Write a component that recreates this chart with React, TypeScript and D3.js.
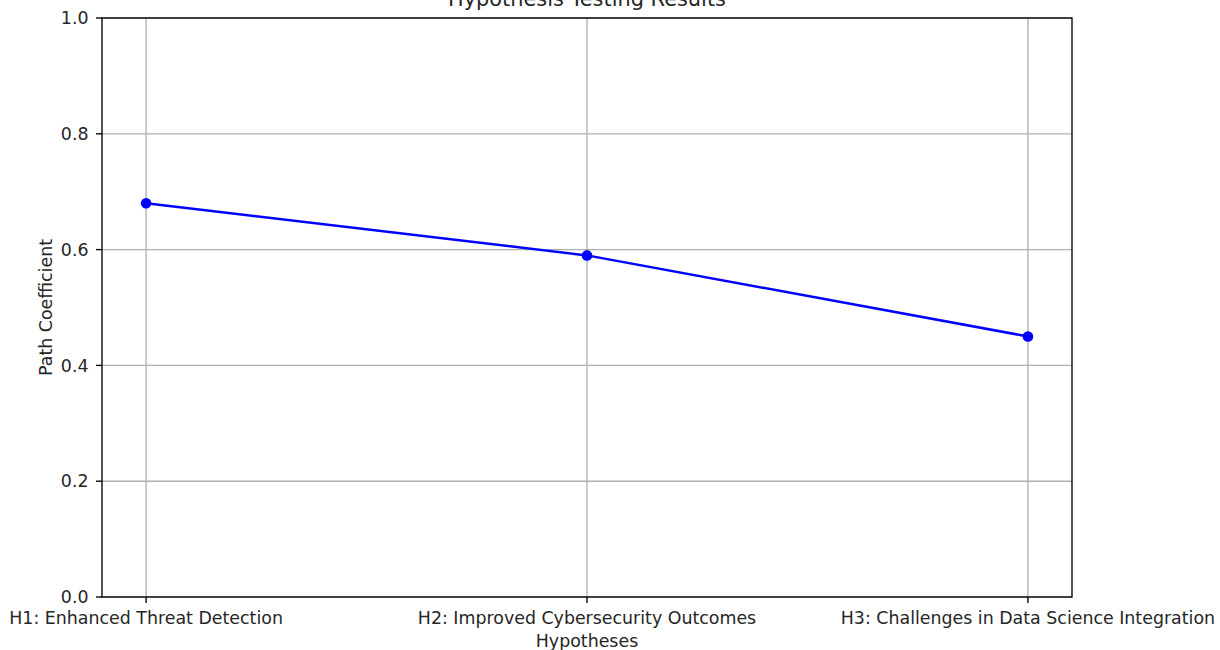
import * as d3 from 'd3';
import { useEffect, useRef } from 'react';

const hypotheses = [
  'H1: Enhanced Threat Detection',
  'H2: Improved Cybersecurity Outcomes',
  'H3: Challenges in Data Science Integration',
];
const coefficients = [0.68, 0.59, 0.45];
const yTicks = [0, 0.2, 0.4, 0.6, 0.8, 1.0];

const width = 1220;
const height = 650;
const margin = { top: 18, right: 148, bottom: 53, left: 102 };
const font = 'DejaVu Sans, sans-serif';
const pt = 1.74; // px per point in the reference

export default function App() {
  const ref = useRef<SVGSVGElement>(null);

  useEffect(() => {
    const svg = d3.select(ref.current);
    svg.selectAll('*').remove();

    const x = d3
      .scaleLinear()
      .domain([-0.1, hypotheses.length - 1 + 0.1])
      .range([margin.left, width - margin.right]);
    const y = d3
      .scaleLinear()
      .domain([0, 1])
      .range([height - margin.bottom, margin.top]);

    const grid = svg.append('g');
    grid
      .selectAll('line.gx')
      .data(hypotheses)
      .join('line')
      .attr('x1', (_, i) => x(i))
      .attr('x2', (_, i) => x(i))
      .attr('y1', y(0))
      .attr('y2', y(1))
      .attr('stroke', '#b0b0b0')
      .attr('stroke-width', 1.35);
    grid
      .selectAll('line.gy')
      .data(yTicks)
      .join('line')
      .attr('x1', x.range()[0])
      .attr('x2', x.range()[1])
      .attr('y1', (d) => y(d))
      .attr('y2', (d) => y(d))
      .attr('stroke', '#b0b0b0')
      .attr('stroke-width', 1.35);

    const line = d3
      .line<number>()
      .x((_, i) => x(i))
      .y((d) => y(d));

    svg
      .append('path')
      .datum(coefficients)
      .attr('d', line)
      .attr('fill', 'none')
      .attr('stroke', 'blue')
      .attr('stroke-width', 2.5);

    svg
      .append('g')
      .selectAll('circle')
      .data(coefficients)
      .join('circle')
      .attr('cx', (_, i) => x(i))
      .attr('cy', (d) => y(d))
      .attr('r', 5.3)
      .attr('fill', 'blue');

    // frame
    svg
      .append('rect')
      .attr('x', x.range()[0])
      .attr('y', y(1))
      .attr('width', x.range()[1] - x.range()[0])
      .attr('height', y(0) - y(1))
      .attr('fill', 'none')
      .attr('stroke', 'black')
      .attr('stroke-width', 1.35);

    const xt = svg
      .append('g')
      .selectAll('g')
      .data(hypotheses)
      .join('g')
      .attr('transform', (_, i) => `translate(${x(i)},${y(0)})`);
    xt.append('line').attr('y2', 6).attr('stroke', 'black').attr('stroke-width', 1.35);
    xt.append('text')
      .attr('y', 26.5)
      .attr('text-anchor', 'middle')
      .attr('font-family', font)
      .attr('font-size', 10 * pt)
      .attr('fill', '#262626')
      .text((d) => d);

    const yt = svg
      .append('g')
      .selectAll('g')
      .data(yTicks)
      .join('g')
      .attr('transform', (d) => `translate(${x.range()[0]},${y(d)})`);
    yt.append('line').attr('x2', -6).attr('stroke', 'black').attr('stroke-width', 1.35);
    yt.append('text')
      .attr('x', -13.5)
      .attr('dy', '0.36em')
      .attr('text-anchor', 'end')
      .attr('font-family', font)
      .attr('font-size', 10 * pt)
      .attr('fill', '#262626')
      .text((d) => d3.format('.1f')(d));

    svg
      .append('text')
      .attr('x', (x.range()[0] + x.range()[1]) / 2)
      .attr('y', 647)
      .attr('text-anchor', 'middle')
      .attr('font-family', font)
      .attr('font-size', 10 * pt)
      .attr('fill', '#262626')
      .text('Hypotheses');

    svg
      .append('text')
      .attr('transform', `translate(52,${(y(0) + y(1)) / 2}) rotate(-90)`)
      .attr('text-anchor', 'middle')
      .attr('font-family', font)
      .attr('font-size', 10 * pt)
      .attr('fill', '#262626')
      .text('Path Coefficient');

    svg
      .append('text')
      .attr('x', (x.range()[0] + x.range()[1]) / 2)
      .attr('y', 6)
      .attr('text-anchor', 'middle')
      .attr('font-family', font)
      .attr('font-size', 12 * pt)
      .attr('fill', '#262626')
      .text('Hypothesis Testing Results');
  }, []);

  return (
    <svg
      ref={ref}
      width={width}
      height={height}
      style={{ position: 'absolute', left: 0, top: 0, background: 'white' }}
    ></svg>
  );
}
